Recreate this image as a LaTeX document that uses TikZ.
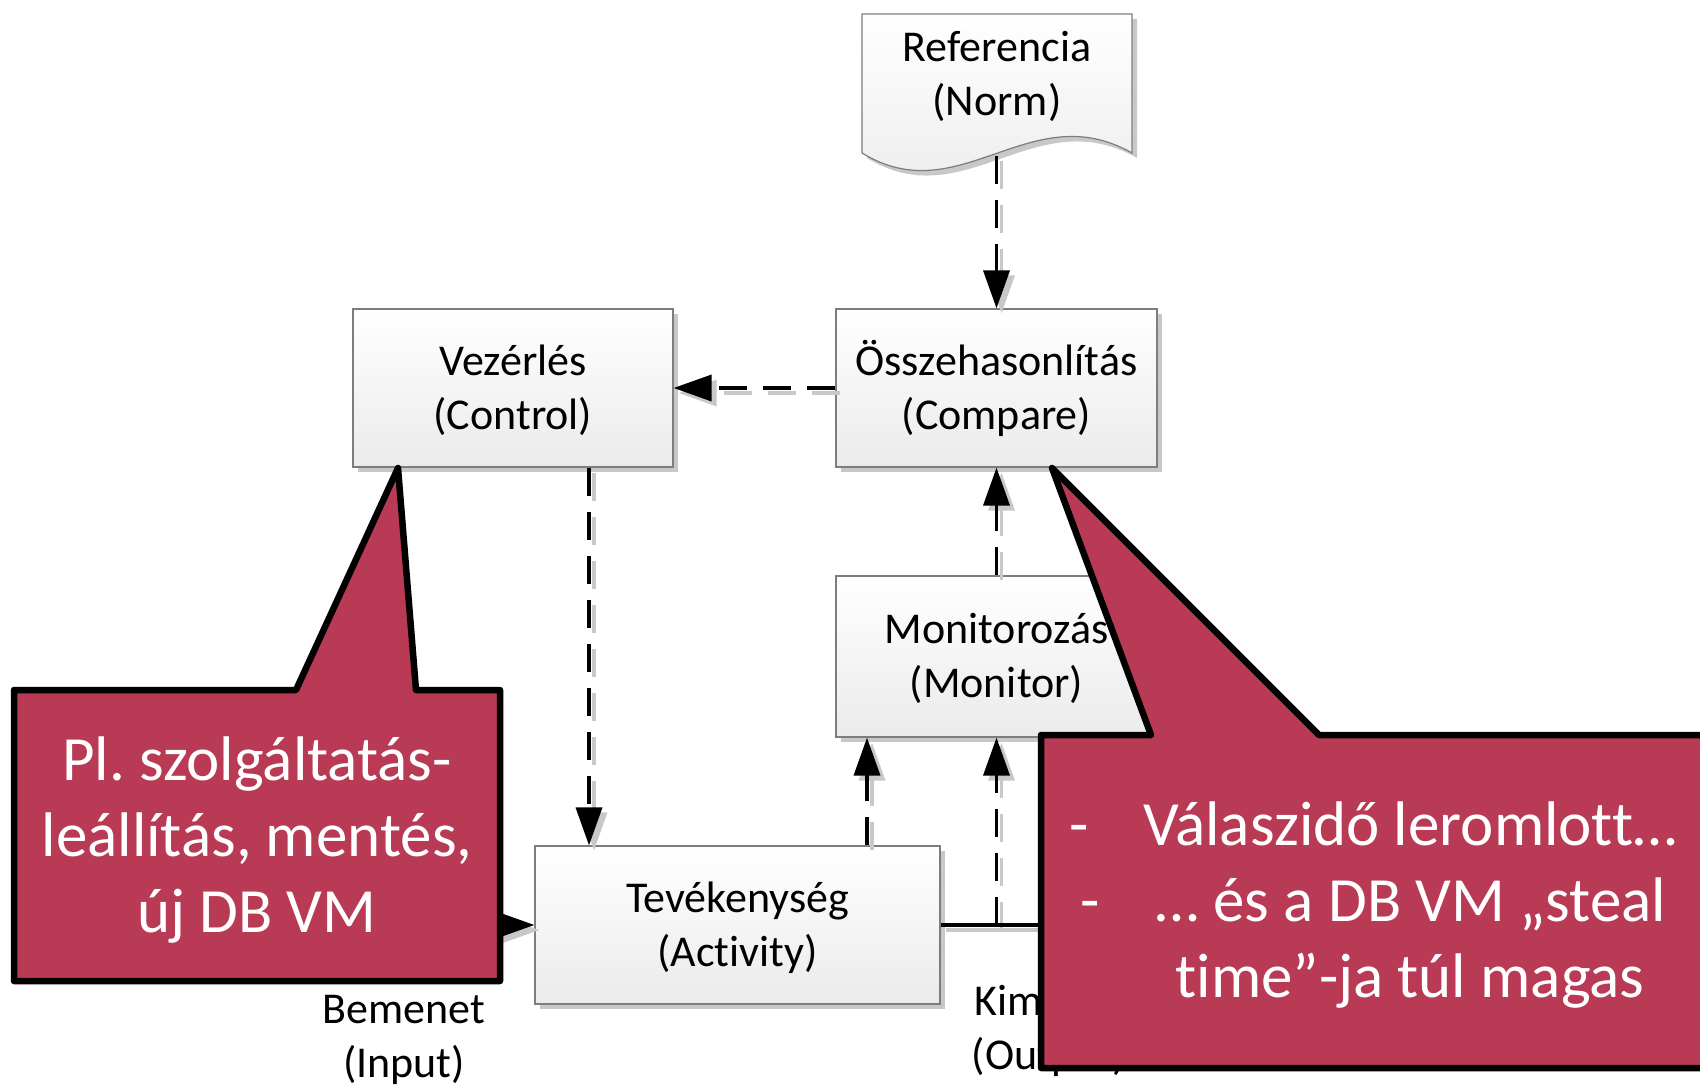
\documentclass[tikz,border=0pt]{standalone}
\usepackage{fontspec}
\setmainfont{Carlito}[Ligatures={NoCommon}]
\usetikzlibrary{arrows.meta,shadows,calc}
\definecolor{callred}{RGB}{185,58,85}
\definecolor{boxedge}{RGB}{125,125,125}
\definecolor{shad}{RGB}{200,200,200}
\frenchspacing
\newcommand{\twoline}[2]{\raisebox{-1.8pt}[\height][\depth]{\begin{tabular}{@{}c@{}}#1\\#2\end{tabular}}}
\begin{document}
\begin{tikzpicture}[x=0.5pt,y=-0.5pt,
  boxtext/.style={font=\fontsize{22}{27}\selectfont, align=center, inner sep=0pt},
  procbox/.style={draw=boxedge, line width=0.6pt, top color=white, bottom color=black!8,
    boxtext, drop shadow={shadow xshift=2.5pt, shadow yshift=-2.5pt, fill=shad, opacity=1}},
  tip/.style={-{Triangle[length=19pt,width=13pt]}},
  dasharrow/.style={line width=1.8pt, dash pattern=on 14pt off 8pt, tip},
  solidline/.style={line width=1.8pt},
  lineshadow/.style={draw=shad, transform canvas={shift={(2.5pt,-2.5pt)}}},
  callout/.style={draw=black, fill=callred, line width=3.25pt, line join=round},
  calltext/.style={font=\fontsize{31.5}{38}\selectfont, text=white, inner sep=0pt, anchor=base}
]
\useasboundingbox (0,0) rectangle (1700,1086);
\clip (0,0) rectangle (1700,1086);

% document shape (Referencia)
\path[draw=boxedge, line width=0.6pt, top color=white, bottom color=black!8,
  drop shadow={shadow xshift=2.5pt, shadow yshift=-2.5pt, fill=shad, opacity=1}]
  (862,14) -- (1132,14) -- (1132,153) .. controls (1030,95) and (960,213) .. (862,153) -- cycle;
\node[boxtext] (ref) at (997,76) {Referencia\\(Norm)};
\coordinate (refout) at (996.5,156);

% process boxes
\node[procbox, minimum width=160pt, minimum height=79pt] (vez) at (513,388) {\twoline{Vezérlés}{(Control)}};
\node[procbox, minimum width=160.5pt, minimum height=79pt] (cmp) at (996.5,388) {\twoline{Összehasonlítás}{(Compare)}};
\node[procbox, minimum width=160.5pt, minimum height=80.5pt] (mon) at (996.5,656.5) {\twoline{Monitorozás}{(Monitor)}};
\node[procbox, minimum width=202.5pt, minimum height=79pt] (tev) at (737.5,925) {\twoline{Tevékenység}{(Activity)}};

\coordinate (c1) at (867,0);
\coordinate (c2) at (589,0);
\coordinate (inp) at (250,925);
\coordinate (outend) at (1400,925);
\coordinate (tap) at (mon.south |- tev.east);

% connector shadows
\draw[dasharrow, lineshadow] (refout) -- (cmp.north);
\draw[dasharrow, lineshadow] (cmp.west) -- (vez.east);
\draw[dasharrow, lineshadow] (vez.south -| c2) -- (tev.north -| c2);
\draw[dasharrow, lineshadow] (mon.north) -- (cmp.south);
\draw[dasharrow, lineshadow] (tev.north -| c1) -- (mon.south -| c1);
\draw[dasharrow, lineshadow] (tap) -- (mon.south);
\draw[solidline, lineshadow] (tev.east) -- (outend);
\draw[solidline, tip, lineshadow] (inp) -- (tev.west);

% connectors
\draw[dasharrow] (refout) -- (cmp.north);
\draw[dasharrow] (cmp.west) -- (vez.east);
\draw[dasharrow] (vez.south -| c2) -- (tev.north -| c2);
\draw[dasharrow] (mon.north) -- (cmp.south);
\draw[dasharrow] (tev.north -| c1) -- (mon.south -| c1);
\draw[solidline] (tev.east) -- (outend);
\draw[dasharrow] (tap) -- (mon.south);
\draw[solidline, tip] (inp) -- (tev.west);

% labels
\node[boxtext] (inlbl) at (404,1040) {Bemenet\\(Input)};
\node[boxtext] (outlbl) at (1049,1031) {Kimenet\\(Output)};

% callout 1
\path[callout] (14,690) -- (296,690) -- (398,468) -- (416,690) -- (500,690) -- (500,981) -- (14,981) -- cycle;
\node[calltext] (ct1) at (257,780) {Pl. szolgáltatás-};
\node[calltext] (ct2) at (257,856) {leállítás, mentés,};
\node[calltext] (ct3) at (257,932) {új DB VM};

% callout 2
\path[callout] (1041,735) -- (1151,735) -- (1052,468) -- (1319,735) -- (1780,735) -- (1780,1068) -- (1041,1068) -- cycle;
\node[calltext] (dd1) at (1079,845) {-};
\node[calltext] (dd2) at (1090,921) {-};
\node[calltext] (cr1) at (1410,845) {Válaszidő leromlott…};
\node[calltext] (cr2) at (1411,921) {… és a DB VM „steal};
\node[calltext] (cr3) at (1410,997) {time”-ja túl magas};
\end{tikzpicture}
\end{document}
